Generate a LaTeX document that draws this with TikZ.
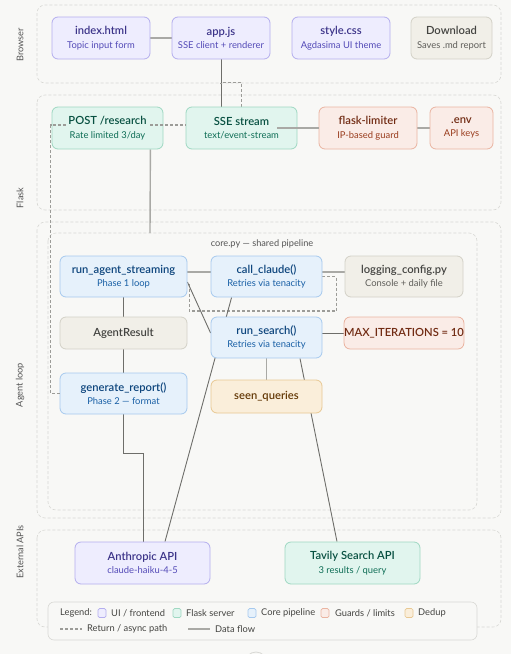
\documentclass[tikz,border=0pt]{standalone}
\usepackage{fontspec}
\setmainfont{Lato}[BoldFont={Lato Semibold}]
\usetikzlibrary{calc}
\definecolor{bgc}{HTML}{F8F8F6}
\definecolor{grpline}{HTML}{D8D8D4}
\definecolor{labc}{HTML}{555555}
\definecolor{uiF}{HTML}{EEEDFE}\definecolor{uiB}{HTML}{B4AEEE}\definecolor{uiT}{HTML}{3C3489}\definecolor{uiS}{HTML}{534AB7}
\definecolor{flF}{HTML}{E1F5EE}\definecolor{flB}{HTML}{9FD8C2}\definecolor{flT}{HTML}{085041}\definecolor{flS}{HTML}{0F6E56}
\definecolor{coF}{HTML}{E6F1FB}\definecolor{coB}{HTML}{A6C9EE}\definecolor{coT}{HTML}{0C447C}\definecolor{coS}{HTML}{185FA5}
\definecolor{guF}{HTML}{FAECE7}\definecolor{guB}{HTML}{EAB4A1}\definecolor{guT}{HTML}{712B13}\definecolor{guS}{HTML}{993C1D}
\definecolor{deF}{HTML}{FAEEDA}\definecolor{deB}{HTML}{E8C893}\definecolor{deT}{HTML}{633806}\definecolor{deS}{HTML}{854F0B}
\definecolor{grF}{HTML}{F1EFE8}\definecolor{grB}{HTML}{D3D1C7}\definecolor{grT}{HTML}{444441}\definecolor{grS}{HTML}{5F5E5A}
\definecolor{lineA}{HTML}{A9A9A5}
\definecolor{lineB}{HTML}{6E6E6A}
\definecolor{lineD}{HTML}{9C9C98}
\newcommand\tcol{black}
\newcommand\scol{black}
\newcommand\ttl[1]{{\color{\tcol}\fontsize{11.2}{13.5}\selectfont\bfseries #1}}
\newcommand\subt[1]{{\color{\scol}\fontsize{9.4}{13.5}\selectfont #1}}
\pgfdeclarelayer{grp}
\pgfdeclarelayer{edges}
\pgfsetlayers{grp,edges,main}
\tikzset{
  box/.style={draw, rounded corners=6pt, line width=0.8pt, align=center, inner sep=0pt, font=\fontsize{9.4}{13.5}\selectfont},
  ui/.style={box, fill=uiF, draw=uiB, execute at begin node={\def\tcol{uiT}\def\scol{uiS}}},
  fl/.style={box, fill=flF, draw=flB, execute at begin node={\def\tcol{flT}\def\scol{flS}}},
  co/.style={box, fill=coF, draw=coB, execute at begin node={\def\tcol{coT}\def\scol{coS}}},
  gu/.style={box, fill=guF, draw=guB, execute at begin node={\def\tcol{guT}\def\scol{guS}}},
  de/.style={box, fill=deF, draw=deB, execute at begin node={\def\tcol{deT}\def\scol{deS}}},
  gy/.style={box, fill=grF, draw=grB, execute at begin node={\def\tcol{grT}\def\scol{grS}}},
  grpbox/.style={draw=grpline, line width=0.6pt, dash pattern=on 3pt off 2pt, rounded corners=8pt},
  grplabel/.style={rotate=90, text=labc, font=\fontsize{9.2}{10}\selectfont},
  flowA/.style={draw=lineA, line width=1.4pt},
  flowB/.style={draw=lineB, line width=0.9pt},
  retpath/.style={draw=lineD, line width=1.1pt, dash pattern=on 3pt off 2pt},
  legtext/.style={anchor=west, text=grT, font=\fontsize{9.3}{10}\selectfont, inner sep=0pt},
  swatch/.style={line width=0.7pt, rounded corners=1.5pt}
}
\begin{document}
\begin{tikzpicture}[x=1pt,y=-1pt]
\useasboundingbox (0,0) rectangle (511,654);

% background and groups
\begin{pgfonlayer}{grp}
\fill[bgc] (0,0) rectangle (511,654);
\draw[grpbox] (37,5) rectangle (501,83);
\draw[grpbox] (37,95) rectangle (501,210);
\draw[grpbox] (37,222) rectangle (501,518);
\draw[grpbox] (48,233) rectangle (477,510);
\draw[grpbox] (37,530) rectangle (501,627);
\coordinate (coretop) at (150,233);
\end{pgfonlayer}
\node[grplabel] (lbrowser) at (20,45) {Browser};
\node[grplabel] (lflask) at (20,198) {Flask};
\node[grplabel] (lagent) at (20,385) {Agent loop};
\node[grplabel] (lext) at (20,552) {External APIs};
\node[text=labc, font=\fontsize{9.2}{10}\selectfont] (lcore) at (262,244) {core.py — shared pipeline};

% browser
\node[ui, minimum width=98pt, minimum height=42pt] (idx) at (101,38) {\ttl{index.html}\\\subt{Topic input form}};
\node[ui, minimum width=98pt, minimum height=42pt] (app) at (221,38) {\ttl{app.js}\\\subt{SSE client + renderer}};
\node[ui, minimum width=98pt, minimum height=42pt] (css) at (341,38) {\ttl{style.css}\\\subt{Agdasima UI theme}};
\node[gy, minimum width=81pt, minimum height=42pt] (dl) at (451.5,38) {\ttl{Download}\\\subt{Saves .md report}};

% flask
\node[fl, minimum width=111pt, minimum height=42pt] (post) at (107.5,128) {\ttl{POST /research}\\\subt{Rate limited 3/day}};
\node[fl, minimum width=111pt, minimum height=42pt] (sse) at (241.5,128) {\ttl{SSE stream}\\\subt{text/event-stream}};
\node[gu, minimum width=98pt, minimum height=42pt] (lim) at (368,128) {\ttl{flask-limiter}\\\subt{IP-based guard}};
\node[gu, minimum width=63pt, minimum height=42pt] (env) at (461.5,128) {\ttl{.env}\\\subt{API keys}};

% core
\node[co, minimum width=127pt, minimum height=41pt] (ras) at (123.5,276.5) {\ttl{run\_agent\_streaming}\\\subt{Phase 1 loop}};
\node[co, minimum width=111pt, minimum height=41pt] (cc) at (266.5,276.5) {\ttl{call\_claude()}\\\subt{Retries via tenacity}};
\node[gy, minimum width=118pt, minimum height=41pt] (logc) at (404,276.5) {\ttl{logging\_config.py}\\\subt{Console + daily file}};
\node[gy, minimum width=127pt, minimum height=32pt] (ar) at (123.5,333) {\ttl{AgentResult}};
\node[co, minimum width=111pt, minimum height=41pt] (rs) at (266.5,337.5) {\ttl{run\_search()}\\\subt{Retries via tenacity}};
\node[gu, minimum width=118pt, minimum height=32pt] (maxit) at (404,333) {\ttl{MAX\_ITERATIONS = 10}};
\node[co, minimum width=127pt, minimum height=41pt] (gr) at (123.5,393.5) {\ttl{generate\_report()}\\\subt{Phase 2 — format}};
\node[de, minimum width=111pt, minimum height=33pt] (seen) at (266.5,396.5) {\ttl{seen\_queries}};

% external
\node[ui, minimum width=135pt, minimum height=42pt] (anth) at (142.5,563) {\ttl{Anthropic API}\\\subt{claude-haiku-4-5}};
\node[fl, minimum width=135pt, minimum height=42pt] (tav) at (352.5,563) {\ttl{Tavily Search API}\\\subt{3 results / query}};

% connectors (behind nodes)
\begin{pgfonlayer}{edges}
\draw[flowA] (idx.east) -- (app.west);
\draw[flowB] (app.south) -- (app.south |- sse.north);
\draw[retpath] (sse.north) -- ++(0,-24) -| ($(app.south)+(0,24)$);
\draw[flowA] (lim.east) -- (env.west);
\draw[flowA] ($(post.south east)+(-13,0)$) -- (coretop);
\draw[flowA] ($(ras.east)+(0,-4.5)$) -- ($(cc.west)+(0,-4.5)$);
\draw[flowA] ($(cc.east)+(0,-4.5)$) -- ($(logc.west)+(0,-4.5)$);
\draw[retpath] (cc.east) -- ++(14,0) -- ++(0,34.5) -| ($(ras.east)+(2,5.5)$);
\draw[flowB] (ras.south) -- (ar.north);
\draw[flowB] (ar.south) -- (gr.north);
\draw[flowB] ($(ras.east)+(0,5.5)$) -- ($(rs.west)+(0,-4.5)$);
\draw[flowB] (maxit.west) -- (maxit.west -| rs.east);
\draw[flowA] (rs.south) -- (seen.north);
\draw[flowB] ($(cc.south west)+(21,0)$) -- ($(anth.north)+(22.5,0)$);
\draw[flowB] ($(rs.south)+(33.5,0)$) -- ($(tav.north)+(-15.5,0)$);
\draw[flowB] (gr.south) -- ++(0,39.5) -| ($(anth.north)+(0.5,0)$);
\end{pgfonlayer}
% connectors drawn over their nodes
\draw[flowA] ($(sse.east)+(-20,0)$) -- (lim.west);
\draw[retpath] (gr.west) -- ++(-9,0) coordinate (ga) -- (ga |- 0,125) -- ($(post.west)+(15,-3)$);
\draw[retpath] ($(post.east)+(-13,-3)$) -- (sse.west |- 0,125);

% legend
\draw[draw=grpline, line width=0.6pt, fill=bgc, rounded corners=6pt] (48,602) rectangle (477,640);
\node[legtext] (lg) at (60,613) {Legend:};
\draw[swatch, fill=uiF, draw=uiB] (98,608.5) rectangle (106,617.5);
\node[legtext] (lg1) at (111,613) {UI / frontend};
\draw[swatch, fill=flF, draw=flB] (173,608.5) rectangle (181,617.5);
\node[legtext] (lg2) at (186,613) {Flask server};
\draw[swatch, fill=coF, draw=coB] (248,608.5) rectangle (256,617.5);
\node[legtext] (lg3) at (261,613) {Core pipeline};
\draw[swatch, fill=guF, draw=guB] (321,608.5) rectangle (329,617.5);
\node[legtext] (lg4) at (335,613) {Guards / limits};
\draw[swatch, fill=deF, draw=deB] (405,608.5) rectangle (413,617.5);
\node[legtext] (lg5) at (418,613) {Dedup};
\coordinate (d1) at (60,629);
\coordinate (d2) at (82,629);
\draw[retpath] (d1) -- (d2);
\node[legtext] (lg6) at (87,629) {Return / async path};
\coordinate (s1) at (188,629);
\coordinate (s2) at (210,629);
\draw[flowA] (s1) -- (s2);
\node[legtext] (lg7) at (215,629) {Data flow};

% partial round button at bottom edge
\begin{scope}
\clip (0,0) rectangle (511,654);
\draw[draw=grpline, line width=0.8pt] (256,663) circle (11);
\end{scope}
\end{tikzpicture}
\end{document}
